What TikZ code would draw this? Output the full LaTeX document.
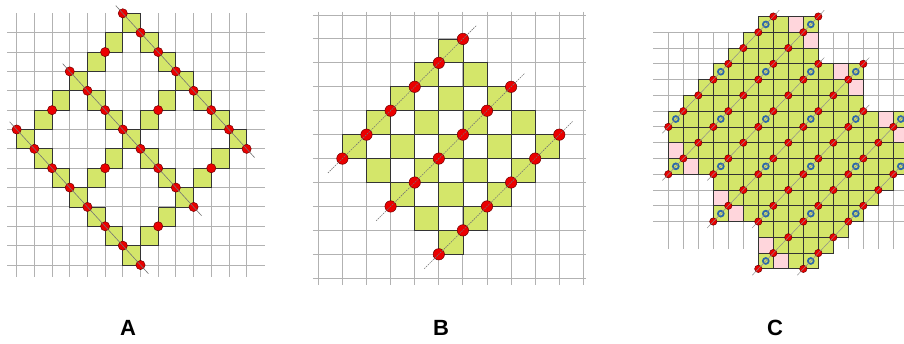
\documentclass[tikz,border=0pt]{standalone}
\usepackage{fontspec}
\setmainfont{Liberation Sans}
\definecolor{cellgreen}{RGB}{212,230,106}
\definecolor{cellpink}{RGB}{255,214,220}
\definecolor{dotred}{RGB}{235,0,0}
\definecolor{dotedge}{RGB}{110,0,0}
\definecolor{ringblue}{RGB}{45,105,170}
\definecolor{gridgray}{RGB}{178,178,178}
\tikzset{
  gridline/.style={draw=gridgray, line width=0.9pt},
  cellbox/.style={fill=cellgreen, draw=black!80, line width=0.8pt},
  pinkbox/.style={fill=cellpink, draw=black!80, line width=0.8pt},
  diagA/.style={draw=black!55, line width=0.6pt},
  diagB/.style={draw=black!55, line width=0.6pt, dash pattern=on 1.5pt off 1pt},
  diagC/.style={draw=black!45, line width=0.5pt},
  reddot/.style={fill=dotred, draw=dotedge, line width=0.5pt},
  ringmark/.style={draw=ringblue, line width=1.8pt},
  panellabel/.style={font=\fontsize{22}{26}\selectfont\bfseries, inner sep=0pt}
}
\begin{document}
\begin{tikzpicture}[x=1pt,y=-1pt]
\useasboundingbox (0,0) rectangle (904,343);
\clip (0,0) rectangle (904,343);

% ---------------- Panel A ----------------
\begin{scope}[shift={(16.67,13.33)}, x=17.69pt, y=-19.36pt]
  \foreach \n in {1,...,13} \draw[gridline] (-0.53,\n) -- (14.04,\n);
  \foreach \k in {0,...,13} \draw[gridline] (\k,0) -- (\k,13.6);
  \foreach \k/\n in {6/0,7/1,8/2,9/3,10/4,11/5,12/6,
                     3/3,4/4,5/5,6/6,7/7,8/8,9/9,
                     0/6,1/7,2/8,3/9,4/10,5/11,6/12,
                     5/1,4/2,2/4,1/5,8/4,7/5,5/7,4/8,11/7,10/8,8/10,7/11}
    \path[cellbox] (\k,\n) rectangle ++(1,1);
  \foreach \x/\y in {6/0,3/3,0/6}
    \foreach \i in {0,...,7}
      \path[reddot] ({\x+\i},{\y+\i}) circle[radius=4.6pt];
  \foreach \k/\n in {5/2,2/5,8/5,5/8,11/8,8/11}
    \path[reddot] (\k,\n) circle[radius=4.6pt];
  \foreach \x/\y in {6/0,3/3,0/6}
    \draw[diagA] ({\x-0.4},{\y-0.4}) -- ({\x+7.45},{\y+7.45});
\end{scope}

% ---------------- Panel B ----------------
\begin{scope}[shift={(318.3,15)}, x=24.1pt, y=-23.93pt]
  \foreach \n in {0,...,11} \draw[gridline] (-0.23,\n) -- (11.1,\n);
  \foreach \k in {0,...,11} \draw[gridline] (\k,-0.14) -- (\k,11.3);
  \foreach \k/\n in {5/1,4/2,6/2,3/3,5/3,7/3,2/4,4/4,6/4,8/4,
                     1/5,3/5,5/5,7/5,9/5,2/6,4/6,6/6,8/6,3/7,5/7,7/7,4/8,6/8,5/9}
    \path[cellbox] (\k,\n) rectangle ++(1,1);
  \foreach \x/\y in {6/1,8/3,10/5}
    \foreach \i in {0,...,5}
      \path[reddot] ({\x-\i},{\y+\i}) circle[radius=5.7pt];
  \foreach \x/\y in {6/1,8/3,10/5}
    \draw[diagB] ({\x+0.55},{\y-0.55}) -- ({\x-5.6},{\y+5.6});
\end{scope}

% ---------------- Panel C ----------------
\begin{scope}[shift={(668.3,32.3)}, x=15pt, y=-15.77pt]
  \foreach \n in {0,...,12} \draw[gridline] (-1,\n) -- (16.5,\n);
  \foreach \k in {0,...,15} \draw[gridline] (\k,0) -- (\k,13.74);
  \foreach \n/\a/\b in {-1/6/9, 0/5/9, 1/4/9, 2/3/12, 3/2/12, 4/1/12,
                        5/0/15, 6/0/15, 7/0/15, 8/0/15,
                        9/3/14, 10/3/13, 11/3/12, 12/6/11, 13/6/10, 14/6/9}
    \foreach \k in {\a,...,\b}
      \path[cellbox] (\k,\n) rectangle ++(1,1);
  \foreach \k/\n in {8/-1,9/0,11/2,12/3,14/5,15/6,0/7,1/8,3/10,4/11,6/13,7/14}
    \path[pinkbox] (\k,\n) rectangle ++(1,1);
  \foreach \k/\n in {6/-1,9/-1,3/2,6/2,9/2,12/2,0/5,3/5,6/5,9/5,12/5,15/5,
                     0/8,3/8,6/8,9/8,12/8,15/8,3/11,6/11,9/11,12/11,6/14,9/14}
    \path[ringmark] ({\k+0.5},{\n+0.5}) circle[radius=2.9pt];
  \foreach \x/\y/\len in {7/-1/7, 10/-1/10, 10/2/7, 13/2/10, 13/5/7, 16/5/10, 16/8/7}
    \foreach \i in {0,...,\len}
      \path[reddot] ({\x-\i},{\y+\i}) circle[radius=3.7pt];
  \foreach \x/\y/\len in {7/-1/7, 10/-1/10, 10/2/7, 13/2/10, 13/5/7, 16/5/10, 16/8/7}
    \draw[diagC] ({\x+0.4},{\y-0.4}) -- ({\x-\len-0.4},{\y+\len+0.4});
\end{scope}

% ---------------- Labels ----------------
\node[panellabel] (labA) at (128,328) {A};
\node[panellabel] (labB) at (441,328) {B};
\node[panellabel] (labC) at (775,328) {C};
\end{tikzpicture}
\end{document}
